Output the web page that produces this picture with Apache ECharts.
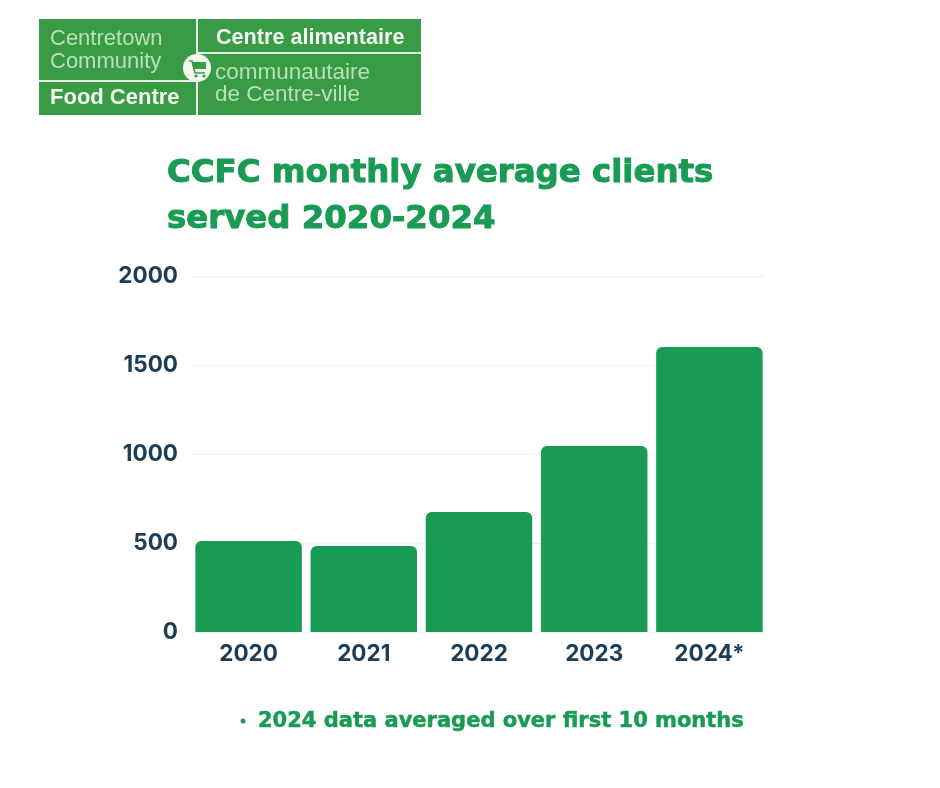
<!DOCTYPE html>
<html><head><meta charset="utf-8">
<style>html,body{margin:0;padding:0;background:#fff}#c{width:940px;height:788px}</style>
<script src="https://cdn.jsdelivr.net/npm/echarts@6/dist/echarts.min.js"></script>
</head><body><div id="c"></div>
<script>
const categories = ['2020','2021','2022','2023','2024*'];
const clients = [511,483,674,1045,1601];
const titleLines = 'CCFC monthly average clients\nserved 2020-2024';
const footnote = '2024 data averaged over first 10 months';
const green = '#1a9b54', navy = '#1c3d55', logoGreen = '#3a9b47', pale = '#b9dfb9';
const chart = echarts.init(document.getElementById('c'));
const plotTop = 276, plotH = 356;
const axisFont = {fontFamily:'Inter',fontWeight:700,fontSize:22.5,color:navy};
function logoText(x,y,text,bold,size){
  return {type:'text',x,y,style:{text,fill:bold?'#f2faf2':pale,fontFamily:'Liberation Sans',fontSize:size,fontWeight:bold?'bold':'normal',textVerticalAlign:'middle'}};
}
function rule(x1,y1,x2,y2){return {type:'line',shape:{x1,y1,x2,y2},style:{stroke:'#e8f4e8',lineWidth:2}};}
chart.setOption({
  backgroundColor:'#fff',animation:false,
  title:{text:titleLines,left:167,top:151,padding:0,itemGap:0,textStyle:{fontFamily:'DejaVu Sans',fontWeight:'bold',fontSize:32.4,lineHeight:46,color:green,textBorderColor:green,textBorderWidth:1}},
  grid:[
    {left:193,width:570,top:plotTop,height:plotH},
    {left:191,width:576,top:plotTop,height:plotH}
  ],
  xAxis:[
    {type:'category',gridIndex:0,data:categories,show:false},
    {type:'category',gridIndex:1,data:categories,axisTick:{show:false},axisLine:{show:false},
     axisLabel:{...axisFont,margin:11}}
  ],
  yAxis:[
    {type:'value',gridIndex:0,min:0,max:2000,interval:500,axisLine:{show:false},axisTick:{show:false},
     axisLabel:{...axisFont,margin:15,formatter:v=>String(v),padding:[6,0,0,0]},splitLine:{lineStyle:{color:'#eeeeee',width:1}}},
    {type:'value',gridIndex:1,min:0,max:2000,interval:500,show:false,splitLine:{show:false}}
  ],
  series:[{type:'bar',xAxisIndex:1,yAxisIndex:1,data:clients,barWidth:106.5,
    itemStyle:{color:green,borderRadius:[6,6,0,0]}}],
  graphic:[
    {type:'rect',shape:{x:39,y:19,width:382,height:96},style:{fill:logoGreen}},
    rule(197,19,197,115),rule(197,53,421,53),rule(39,81,197,81),
    logoText(50,39,'Centretown',false,22),
    logoText(50,62,'Community',false,22),
    logoText(50,98,'Food Centre',true,22),
    logoText(216,38,'Centre alimentaire',true,21.6),
    logoText(215,73,'communautaire',false,22.5),
    logoText(215,95,'de Centre-ville',false,22.5),
    {type:'circle',shape:{cx:197,cy:68,r:14},style:{fill:'#f0f8f0'}},
    {type:'polyline',shape:{points:[[189,61],[192,61],[195,73],[205,73]]},style:{stroke:logoGreen,fill:null,lineWidth:1.6}},
    {type:'rect',shape:{x:193,y:62,width:13,height:7},style:{fill:logoGreen}},
    {type:'circle',shape:{cx:196,cy:76,r:1.6},style:{fill:logoGreen}},
    {type:'circle',shape:{cx:204,cy:76,r:1.6},style:{fill:logoGreen}},
    {type:'circle',shape:{cx:243,cy:721,r:2.5},style:{fill:green}},
    {type:'text',x:258,y:722,style:{text:footnote,fill:green,stroke:green,lineWidth:0.5,fontFamily:'DejaVu Sans',fontWeight:'bold',fontSize:21,textVerticalAlign:'middle'}}
  ]
});
</script></body></html>
